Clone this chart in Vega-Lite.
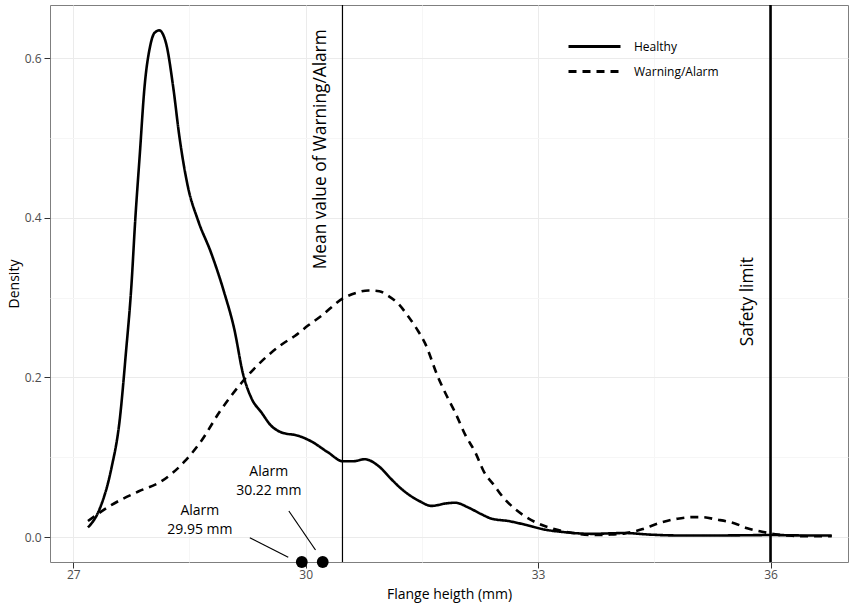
{
  "$schema": "https://vega.github.io/schema/vega-lite/v6.json",
  "width": 798,
  "height": 557,
  "autosize": "none",
  "padding": {"left": 50, "top": 5, "right": 14, "bottom": 41},
  "background": "white",
  "config": {
    "font": "Open Sans",
    "view": {"stroke": "#7f7f7f", "strokeWidth": 1},
    "axis": {
      "domain": false,
      "tickColor": "#333333",
      "tickSize": 6,
      "labelColor": "#4d4d4d",
      "labelFontSize": 12,
      "titleFontSize": 14,
      "titleFontWeight": "normal",
      "titleColor": "#000000",
      "labelPadding": 3
    }
  },
  "layer": [
    {
      "data": {"values": [
        {"x": 27.19, "y": 0.012, "group": "Healthy"},
        {"x": 27.34, "y": 0.035, "group": "Healthy"},
        {"x": 27.49, "y": 0.085, "group": "Healthy"},
        {"x": 27.60, "y": 0.147, "group": "Healthy"},
        {"x": 27.68, "y": 0.231, "group": "Healthy"},
        {"x": 27.75, "y": 0.314, "group": "Healthy"},
        {"x": 27.80, "y": 0.397, "group": "Healthy"},
        {"x": 27.86, "y": 0.481, "group": "Healthy"},
        {"x": 27.92, "y": 0.564, "group": "Healthy"},
        {"x": 27.99, "y": 0.614, "group": "Healthy"},
        {"x": 28.05, "y": 0.632, "group": "Healthy"},
        {"x": 28.11, "y": 0.635, "group": "Healthy"},
        {"x": 28.20, "y": 0.618, "group": "Healthy"},
        {"x": 28.29, "y": 0.564, "group": "Healthy"},
        {"x": 28.37, "y": 0.502, "group": "Healthy"},
        {"x": 28.48, "y": 0.439, "group": "Healthy"},
        {"x": 28.61, "y": 0.397, "group": "Healthy"},
        {"x": 28.78, "y": 0.356, "group": "Healthy"},
        {"x": 28.95, "y": 0.306, "group": "Healthy"},
        {"x": 29.08, "y": 0.260, "group": "Healthy"},
        {"x": 29.19, "y": 0.205, "group": "Healthy"},
        {"x": 29.30, "y": 0.174, "group": "Healthy"},
        {"x": 29.43, "y": 0.156, "group": "Healthy"},
        {"x": 29.55, "y": 0.140, "group": "Healthy"},
        {"x": 29.69, "y": 0.131, "group": "Healthy"},
        {"x": 29.90, "y": 0.127, "group": "Healthy"},
        {"x": 30.07, "y": 0.120, "group": "Healthy"},
        {"x": 30.29, "y": 0.106, "group": "Healthy"},
        {"x": 30.48, "y": 0.095, "group": "Healthy"},
        {"x": 30.62, "y": 0.095, "group": "Healthy"},
        {"x": 30.76, "y": 0.0975, "group": "Healthy"},
        {"x": 30.94, "y": 0.089, "group": "Healthy"},
        {"x": 31.10, "y": 0.073, "group": "Healthy"},
        {"x": 31.24, "y": 0.060, "group": "Healthy"},
        {"x": 31.45, "y": 0.046, "group": "Healthy"},
        {"x": 31.63, "y": 0.039, "group": "Healthy"},
        {"x": 31.80, "y": 0.042, "group": "Healthy"},
        {"x": 31.93, "y": 0.043, "group": "Healthy"},
        {"x": 32.10, "y": 0.037, "group": "Healthy"},
        {"x": 32.26, "y": 0.029, "group": "Healthy"},
        {"x": 32.40, "y": 0.023, "group": "Healthy"},
        {"x": 32.62, "y": 0.020, "group": "Healthy"},
        {"x": 32.85, "y": 0.015, "group": "Healthy"},
        {"x": 33.05, "y": 0.010, "group": "Healthy"},
        {"x": 33.35, "y": 0.006, "group": "Healthy"},
        {"x": 33.69, "y": 0.004, "group": "Healthy"},
        {"x": 34.12, "y": 0.005, "group": "Healthy"},
        {"x": 34.45, "y": 0.003, "group": "Healthy"},
        {"x": 34.77, "y": 0.002, "group": "Healthy"},
        {"x": 35.40, "y": 0.002, "group": "Healthy"},
        {"x": 36.02, "y": 0.0025, "group": "Healthy"},
        {"x": 36.40, "y": 0.002, "group": "Healthy"},
        {"x": 36.79, "y": 0.002, "group": "Healthy"},
        {"x": 27.19, "y": 0.020, "group": "Warning/Alarm"},
        {"x": 27.49, "y": 0.040, "group": "Warning/Alarm"},
        {"x": 27.84, "y": 0.057, "group": "Warning/Alarm"},
        {"x": 28.14, "y": 0.070, "group": "Warning/Alarm"},
        {"x": 28.44, "y": 0.095, "group": "Warning/Alarm"},
        {"x": 28.65, "y": 0.120, "group": "Warning/Alarm"},
        {"x": 28.89, "y": 0.157, "group": "Warning/Alarm"},
        {"x": 29.17, "y": 0.193, "group": "Warning/Alarm"},
        {"x": 29.45, "y": 0.222, "group": "Warning/Alarm"},
        {"x": 29.70, "y": 0.242, "group": "Warning/Alarm"},
        {"x": 29.86, "y": 0.252, "group": "Warning/Alarm"},
        {"x": 30.03, "y": 0.265, "group": "Warning/Alarm"},
        {"x": 30.20, "y": 0.277, "group": "Warning/Alarm"},
        {"x": 30.48, "y": 0.299, "group": "Warning/Alarm"},
        {"x": 30.65, "y": 0.306, "group": "Warning/Alarm"},
        {"x": 30.81, "y": 0.309, "group": "Warning/Alarm"},
        {"x": 30.95, "y": 0.308, "group": "Warning/Alarm"},
        {"x": 31.07, "y": 0.302, "group": "Warning/Alarm"},
        {"x": 31.20, "y": 0.292, "group": "Warning/Alarm"},
        {"x": 31.32, "y": 0.277, "group": "Warning/Alarm"},
        {"x": 31.44, "y": 0.260, "group": "Warning/Alarm"},
        {"x": 31.54, "y": 0.243, "group": "Warning/Alarm"},
        {"x": 31.71, "y": 0.200, "group": "Warning/Alarm"},
        {"x": 31.82, "y": 0.177, "group": "Warning/Alarm"},
        {"x": 31.93, "y": 0.156, "group": "Warning/Alarm"},
        {"x": 32.06, "y": 0.128, "group": "Warning/Alarm"},
        {"x": 32.19, "y": 0.106, "group": "Warning/Alarm"},
        {"x": 32.30, "y": 0.082, "group": "Warning/Alarm"},
        {"x": 32.44, "y": 0.064, "group": "Warning/Alarm"},
        {"x": 32.53, "y": 0.052, "group": "Warning/Alarm"},
        {"x": 32.68, "y": 0.037, "group": "Warning/Alarm"},
        {"x": 32.83, "y": 0.026, "group": "Warning/Alarm"},
        {"x": 33.05, "y": 0.015, "group": "Warning/Alarm"},
        {"x": 33.26, "y": 0.0088, "group": "Warning/Alarm"},
        {"x": 33.45, "y": 0.005, "group": "Warning/Alarm"},
        {"x": 33.69, "y": 0.0025, "group": "Warning/Alarm"},
        {"x": 33.90, "y": 0.003, "group": "Warning/Alarm"},
        {"x": 34.12, "y": 0.0046, "group": "Warning/Alarm"},
        {"x": 34.35, "y": 0.010, "group": "Warning/Alarm"},
        {"x": 34.55, "y": 0.017, "group": "Warning/Alarm"},
        {"x": 34.80, "y": 0.023, "group": "Warning/Alarm"},
        {"x": 35.00, "y": 0.025, "group": "Warning/Alarm"},
        {"x": 35.11, "y": 0.025, "group": "Warning/Alarm"},
        {"x": 35.30, "y": 0.022, "group": "Warning/Alarm"},
        {"x": 35.54, "y": 0.017, "group": "Warning/Alarm"},
        {"x": 35.70, "y": 0.011, "group": "Warning/Alarm"},
        {"x": 35.89, "y": 0.0066, "group": "Warning/Alarm"},
        {"x": 36.10, "y": 0.003, "group": "Warning/Alarm"},
        {"x": 36.28, "y": 0.0016, "group": "Warning/Alarm"},
        {"x": 36.50, "y": 0.001, "group": "Warning/Alarm"},
        {"x": 36.79, "y": 0.001, "group": "Warning/Alarm"}
      ]},
      "mark": {"type": "line", "color": "black", "strokeWidth": 2.6, "interpolate": "monotone"},
      "encoding": {
        "x": {
          "field": "x", "type": "quantitative",
          "scale": {"domain": [26.70, 37.0], "nice": false, "zero": false},
          "axis": {
            "title": "Flange heigth (mm)",
            "values": [27, 28.5, 30, 31.5, 33, 34.5, 36],
            "labelExpr": "datum.value % 3 == 0 ? format(datum.value, 'd') : ''",
            "tickOpacity": {"condition": {"test": "datum.value % 3 == 0", "value": 1}, "value": 0},
            "gridColor": {"condition": {"test": "datum.value % 3 == 0", "value": "#ebebeb"}, "value": "#f6f6f6"},
            "labelPadding": 1,
            "titlePadding": 7
          }
        },
        "y": {
          "field": "y", "type": "quantitative",
          "scale": {"domain": [-0.0313, 0.6668], "nice": false, "zero": false},
          "axis": {
            "title": "Density",
            "values": [0, 0.1, 0.2, 0.3, 0.4, 0.5, 0.6],
            "labelExpr": "(round(datum.value * 10) % 2 == 0) ? format(datum.value, '.1f') : ''",
            "tickOpacity": {"condition": {"test": "round(datum.value * 10) % 2 == 0", "value": 1}, "value": 0},
            "gridColor": {"condition": {"test": "round(datum.value * 10) % 2 == 0", "value": "#ebebeb"}, "value": "#f6f6f6"},
            "titlePadding": 3
          }
        },
        "strokeDash": {
          "field": "group", "type": "nominal",
          "scale": {"domain": ["Healthy", "Warning/Alarm"], "range": [[1, 0], [8, 6]]},
          "legend": {
            "title": null,
            "orient": "none",
            "legendX": 533,
            "legendY": 30,
            "symbolType": "M-2.6,0H2.6",
            "symbolSize": 400,
            "symbolStrokeWidth": 3,
            "symbolStrokeColor": "black",
            "labelFontSize": 12,
            "labelColor": "#000000",
            "labelOffset": 28,
            "rowPadding": 7
          }
        }
      }
    },
    {
      "data": {"values": [{"x": 30.475}]},
      "mark": {"type": "rule", "color": "black", "strokeWidth": 1.2},
      "encoding": {"x": {"field": "x", "type": "quantitative"}}
    },
    {
      "data": {"values": [{"x": 36.0}]},
      "mark": {"type": "rule", "color": "black", "strokeWidth": 2.6},
      "encoding": {"x": {"field": "x", "type": "quantitative"}}
    },
    {
      "data": {"values": [
        {"x": 30.204, "y": 0.486, "label": "Mean value of Warning/Alarm"},
        {"x": 35.705, "y": 0.295, "label": "Safety limit"}
      ]},
      "mark": {"type": "text", "angle": 270, "fontSize": 17.3, "align": "center", "baseline": "middle", "color": "black"},
      "encoding": {
        "x": {"field": "x", "type": "quantitative"},
        "y": {"field": "y", "type": "quantitative"},
        "text": {"field": "label"}
      }
    },
    {
      "data": {"values": [
        {"x": 29.279, "y": -0.0009, "x2": 29.775, "y2": -0.0254},
        {"x": 29.783, "y": 0.0326, "x2": 30.127, "y2": -0.0163}
      ]},
      "mark": {"type": "rule", "color": "black", "strokeWidth": 1.2},
      "encoding": {
        "x": {"field": "x", "type": "quantitative"},
        "y": {"field": "y", "type": "quantitative"},
        "x2": {"field": "x2"},
        "y2": {"field": "y2"}
      }
    },
    {
      "data": {"values": [
        {"x": 28.634, "y": 0.033, "label": "Alarm\n29.95 mm"},
        {"x": 29.524, "y": 0.0809, "label": "Alarm\n30.22 mm"}
      ]},
      "mark": {"type": "text", "fontSize": 14, "lineBreak": "\n", "lineHeight": 19, "align": "center", "baseline": "middle", "color": "black"},
      "encoding": {
        "x": {"field": "x", "type": "quantitative"},
        "y": {"field": "y", "type": "quantitative"},
        "text": {"field": "label"}
      }
    },
    {
      "data": {"values": [
        {"x": 29.95, "y": -0.0313},
        {"x": 30.22, "y": -0.0313}
      ]},
      "mark": {"type": "circle", "color": "black", "opacity": 1, "size": 140},
      "encoding": {
        "x": {"field": "x", "type": "quantitative"},
        "y": {"field": "y", "type": "quantitative"}
      }
    }
  ]
}
